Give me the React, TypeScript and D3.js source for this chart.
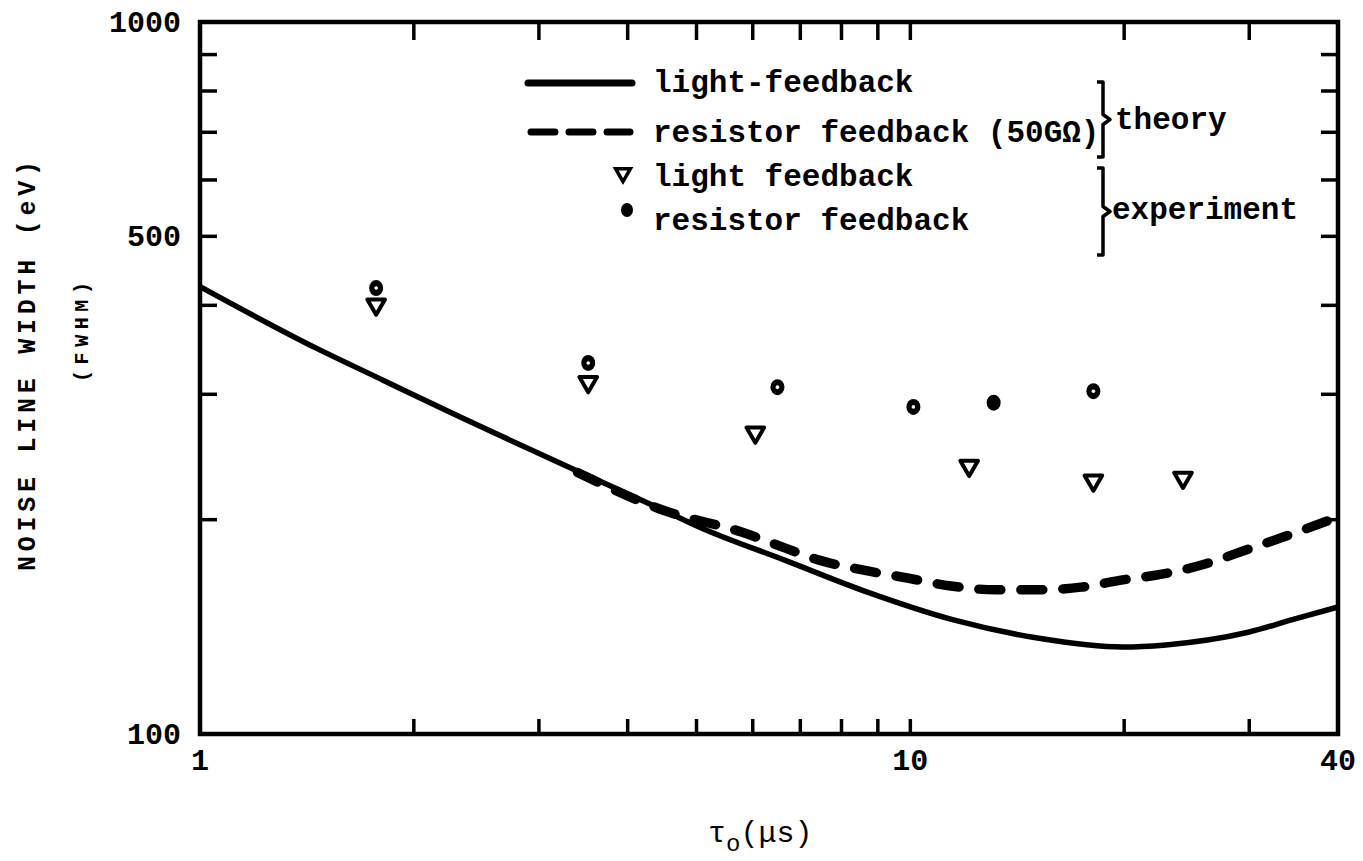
import { useMemo } from "react";
import * as d3 from "d3";

const W = 1363;
const H = 861;
const FONT = "'Liberation Mono', 'DejaVu Sans Mono', monospace";

// tick positions and labels
const xTicks = [2, 3, 4, 5, 6, 7, 8, 9, 10, 20, 30];
const xLabels = [1, 10, 40];
const yTicks = [200, 300, 400, 500, 600, 700, 800, 900];
const yLabels = [100, 500, 1000];

// theory, light feedback (solid)
const tauLight = [1, 1.46, 1.81, 2.25, 3.5, 4.5, 5.06, 6.64, 8.76, 11.5, 15.1, 19.9, 22.9, 26.2, 30, 34.4, 40];
const fwhmLight = [425, 348, 314, 283, 231, 206, 195, 175.6, 157.8, 144.6, 136.4, 132.5, 133.4, 135.5, 139.1, 144.6, 150.8];

// theory, resistor feedback 50 GOhm (dashed)
const tauRes = [3.4, 4.5, 5.8, 6.67, 7.42, 8.56, 9.9, 11.4, 13.2, 15.1, 17.4, 19.9, 22.7, 26, 29.4, 33.5, 40];
const fwhmRes = [233, 206, 192, 182.4, 175.6, 170, 165.6, 161.4, 159.4, 159.4, 160.8, 164.6, 167.8, 173.3, 180.7, 189.1, 201.7];

// experiment, light feedback (triangles)
const tauExpLight = [1.77, 3.52, 6.05, 12.1, 18.1, 24.2];
const fwhmExpLight = [401, 312, 265, 238, 227, 229];

// experiment, resistor feedback (circles)
const tauExpRes = [1.77, 3.52, 6.5, 10.1, 13.1, 18.1];
const fwhmExpRes = [423, 332, 307, 288, 292, 303];
const solidDot = [false, false, false, false, true, false];

export default function App() {
  const x = d3.scaleLog().domain([1, 40]).range([200, 1338]);
  const y = d3.scaleLog().domain([100, 1000]).range([734, 22]);
  const [x0, x1] = x.range();
  const [y0, y1] = y.range();

  const line = d3
    .line<[number, number]>()
    .x((d) => x(d[0]))
    .y((d) => y(d[1]))
    .curve(d3.curveMonotoneX);

  const solidPath = useMemo(() => line(tauLight.map((t, i) => [t, fwhmLight[i]])), []);
  const dashPath = useMemo(() => line(tauRes.map((t, i) => [t, fwhmRes[i]])), []);

  const tri = d3.symbol().type(d3.symbolTriangle).size(135)();
  const triSmall = d3.symbol().type(d3.symbolTriangle).size(95)();

  const brace = (xa: number, ya: number, yb: number) => {
    const ym = (ya + yb) / 2;
    return `M${xa - 6},${ya} L${xa},${ya} L${xa},${ym - 5} L${xa + 7},${ym} L${xa},${ym + 5} L${xa},${yb} L${xa - 6},${yb}`;
  };

  const TL = 15;

  return (
    <svg
      width={W}
      height={H}
      style={{ position: "absolute", left: 0, top: 0 }}
      fontFamily={FONT}
    >
      <rect width={W} height={H} fill="#fff" />

      {/* frame */}
      <rect x={x0} y={y1} width={x1 - x0} height={y0 - y1} fill="none" stroke="#000" strokeWidth={4.5} />

      {/* x ticks top and bottom */}
      {xTicks.map((t) => (
        <g key={"xt" + t} stroke="#000" strokeWidth={3.5}>
          <line x1={x(t)} x2={x(t)} y1={y0} y2={y0 - TL} />
          <line x1={x(t)} x2={x(t)} y1={y1} y2={y1 + TL + 3} />
        </g>
      ))}
      {/* y ticks left and right */}
      {yTicks.map((t) => (
        <g key={"yt" + t} stroke="#000" strokeWidth={3.5}>
          <line x1={x0} x2={x0 + TL + 2} y1={y(t)} y2={y(t)} />
          <line x1={x1} x2={x1 - TL - 2} y1={y(t)} y2={y(t)} />
        </g>
      ))}

      {/* tick labels */}
      {xLabels.map((t) => (
        <text key={"xl" + t} x={x(t)} y={762} textAnchor="middle" dominantBaseline="central"
          fontSize={30} fontWeight="bold">
          {t}
        </text>
      ))}
      {yLabels.map((t) => (
        <text key={"yl" + t} x={181} y={y(t) + 2} textAnchor="end" dominantBaseline="central"
          fontSize={30} fontWeight="bold">
          {t}
        </text>
      ))}

      {/* axis titles */}
      <text transform="translate(28,366) rotate(-90)" textAnchor="middle" dominantBaseline="central"
        fontSize={25} fontWeight="bold" textLength={410} lengthAdjust="spacing">
        NOISE LINE WIDTH (eV)
      </text>
      <text transform="translate(82,332) rotate(-90)" textAnchor="middle" dominantBaseline="central"
        fontSize={20} fontWeight="bold" textLength={100} lengthAdjust="spacing">
        (FWHM)
      </text>
      <text x={708} y={842} fontSize={30}>
        τ
        <tspan dy={9} fontSize={24}>o</tspan>
        <tspan dy={-9}>(μs)</tspan>
      </text>

      {/* theory curves */}
      <path d={solidPath ?? ""} fill="none" stroke="#000" strokeWidth={5.5} strokeLinejoin="round" />
      <path d={dashPath ?? ""} fill="none" stroke="#000" strokeWidth={9.5} strokeDasharray="22,20"
        strokeLinecap="round" />

      {/* experiment points */}
      {tauExpLight.map((t, i) => (
        <path key={"tr" + i} d={tri ?? ""} transform={`translate(${x(t)},${y(fwhmExpLight[i])}) rotate(180)`}
          fill="#fff" stroke="#000" strokeWidth={4} strokeLinejoin="round" />
      ))}
      {tauExpRes.map((t, i) => (
        <g key={"ci" + i} transform={`translate(${x(t)},${y(fwhmExpRes[i])})`}>
          <ellipse rx={7} ry={8} fill="#000" />
          {!solidDot[i] && <circle r={1.8} fill="#fff" />}
        </g>
      ))}

      {/* legend */}
      <g fontSize={31} fontWeight="bold">
        <line x1={528} x2={632} y1={83} y2={83} stroke="#000" strokeWidth={7} strokeLinecap="round" />
        <text x={653} y={83} dominantBaseline="central">light-feedback</text>

        <line x1={531} x2={630} y1={132} y2={132} stroke="#000" strokeWidth={7} strokeLinecap="round"
          strokeDasharray="24,14" />
        <text x={653} y={133} dominantBaseline="central">resistor feedback (50GΩ)</text>

        <path d={triSmall ?? ""} transform="translate(623,173) rotate(180)" fill="#fff" stroke="#000"
          strokeWidth={3.5} />
        <text x={653} y={177} dominantBaseline="central">light feedback</text>

        <ellipse cx={627} cy={210} rx={6} ry={7} fill="#000" />
        <text x={653} y={221} dominantBaseline="central">resistor feedback</text>

        <path d={brace(1103, 82, 157)} fill="none" stroke="#000" strokeWidth={3.5} strokeLinejoin="round" />
        <text x={1115} y={120} dominantBaseline="central">theory</text>
        <path d={brace(1103, 168, 255)} fill="none" stroke="#000" strokeWidth={3.5} strokeLinejoin="round" />
        <text x={1112} y={210} dominantBaseline="central">experiment</text>
      </g>
    </svg>
  );
}
